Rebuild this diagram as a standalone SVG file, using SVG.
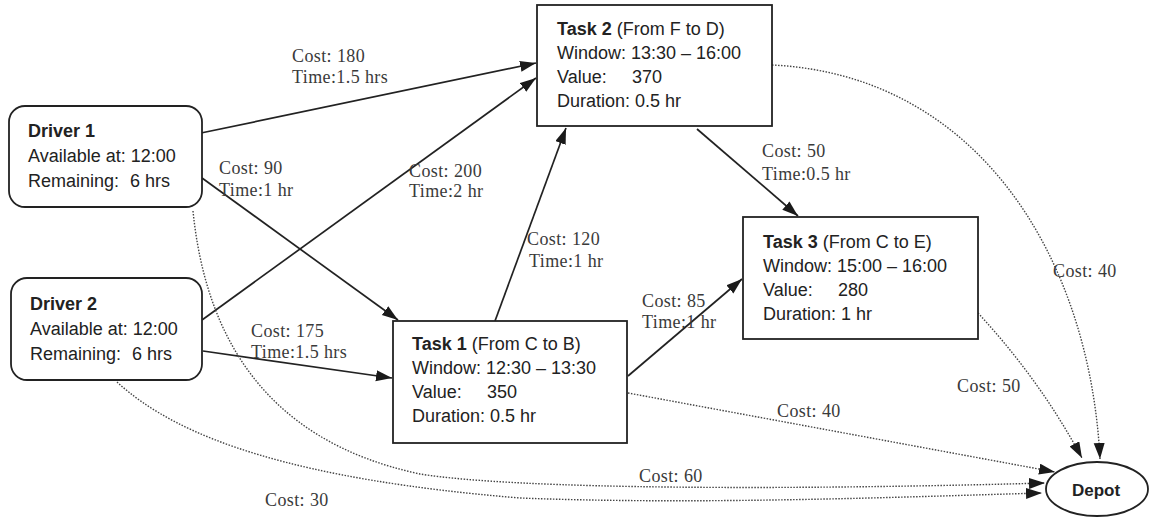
<svg xmlns="http://www.w3.org/2000/svg" width="1151" height="520" viewBox="0 0 1151 520">
<style>
.node{fill:#fff;stroke:#222;stroke-width:1.8}
.nt{font-family:"Liberation Sans",Arial,sans-serif;font-size:18px;fill:#222}
.b{font-weight:bold}
.lbl{font-family:"Liberation Serif","Times New Roman",serif;font-size:18px;fill:#3a3a3a;letter-spacing:0.4px}
.solid{fill:none;stroke:#222;stroke-width:1.7;marker-end:url(#ah)}
.dot{fill:none;stroke:#444;stroke-width:1.4;stroke-dasharray:1.5 1.5;marker-end:url(#ah)}
</style>
<defs>
<marker id="ah" markerUnits="userSpaceOnUse" markerWidth="18" markerHeight="12" refX="16" refY="5.5" orient="auto">
<path d="M0,0 L16,5.5 L0,11 z" fill="#1a1a1a"/>
</marker>
</defs>
<rect width="1151" height="520" fill="#fff"/>
<g id="connectors">
<path class="solid" d="M201,133 L536,63"/>
<path class="solid" d="M202,320 L536,78"/>
<path class="solid" d="M202,178 L398,320"/>
<path class="solid" d="M203,351 L392,378"/>
<path class="solid" d="M495,321 L566,128"/>
<path class="solid" d="M697,129 L798,216"/>
<path class="solid" d="M628,376 L742,279"/>
<path class="dot" d="M772,65 C980,75 1090,260 1100,459"/>
<path class="dot" d="M978,313 Q1040,380 1082,458"/>
<path class="dot" d="M628,393 L1055,472"/>
<path class="dot" d="M193,211 C205,330 260,440 420,474 C520,490 800,490 1045,483"/>
<path class="dot" d="M117,382 C180,440 300,480 520,498 C700,505 900,497 1042,493"/>
<text class="lbl" x="292" y="62">Cost: 180</text>
<text class="lbl" x="292" y="83">Time:1.5 hrs</text>
<text class="lbl" x="219" y="174">Cost: 90</text>
<text class="lbl" x="219" y="196">Time:1 hr</text>
<text class="lbl" x="409" y="177">Cost: 200</text>
<text class="lbl" x="409" y="197">Time:2 hr</text>
<text class="lbl" x="527" y="245">Cost: 120</text>
<text class="lbl" x="529" y="267">Time:1 hr</text>
<text class="lbl" x="762" y="157">Cost: 50</text>
<text class="lbl" x="762" y="180">Time:0.5 hr</text>
<text class="lbl" x="251" y="337">Cost: 175</text>
<text class="lbl" x="251" y="358">Time:1.5 hrs</text>
<text class="lbl" x="642" y="307">Cost: 85</text>
<text class="lbl" x="642" y="328">Time:1 hr</text>
<text class="lbl" x="1053" y="277">Cost: 40</text>
<text class="lbl" x="957" y="392">Cost: 50</text>
<text class="lbl" x="777" y="417">Cost: 40</text>
<text class="lbl" x="639" y="482">Cost: 60</text>
<text class="lbl" x="265" y="506">Cost: 30</text>
</g>
<g id="driver1">
<rect class="node" x="9" y="106" width="193" height="101" rx="16"/>
<text class="nt b" x="28" y="137">Driver 1</text>
<text class="nt" x="28" y="162">Available at: 12:00</text>
<text class="nt" x="28" y="187">Remaining:<tspan x="130">6 hrs</tspan></text>
</g>
<g id="driver2">
<rect class="node" x="11" y="278" width="191" height="102" rx="16"/>
<text class="nt b" x="30" y="310">Driver 2</text>
<text class="nt" x="30" y="335">Available at: 12:00</text>
<text class="nt" x="30" y="360">Remaining:<tspan x="132">6 hrs</tspan></text>
</g>
<g id="task2">
<rect class="node" x="537" y="5" width="235" height="121"/>
<text class="nt" x="557" y="35"><tspan class="b">Task 2</tspan> (From F to D)</text>
<text class="nt" x="557" y="59">Window: 13:30 – 16:00</text>
<text class="nt" x="557" y="83">Value:<tspan x="632">370</tspan></text>
<text class="nt" x="557" y="107">Duration: 0.5 hr</text>
</g>
<g id="task1">
<rect class="node" x="393" y="321" width="234" height="122"/>
<text class="nt" x="412" y="350"><tspan class="b">Task 1</tspan> (From C to B)</text>
<text class="nt" x="412" y="374">Window: 12:30 – 13:30</text>
<text class="nt" x="412" y="398">Value:<tspan x="487">350</tspan></text>
<text class="nt" x="412" y="422">Duration: 0.5 hr</text>
</g>
<g id="task3">
<rect class="node" x="743" y="217" width="235" height="122"/>
<text class="nt" x="763" y="248"><tspan class="b">Task 3</tspan> (From C to E)</text>
<text class="nt" x="763" y="272">Window: 15:00 – 16:00</text>
<text class="nt" x="763" y="296">Value:<tspan x="838">280</tspan></text>
<text class="nt" x="763" y="320">Duration: 1 hr</text>
</g>
<g id="depot">
<ellipse class="node" cx="1097" cy="489" rx="51" ry="27"/>
<text class="nt b" x="1096" y="496" text-anchor="middle" style="font-size:17px">Depot</text>
</g>
</svg>
